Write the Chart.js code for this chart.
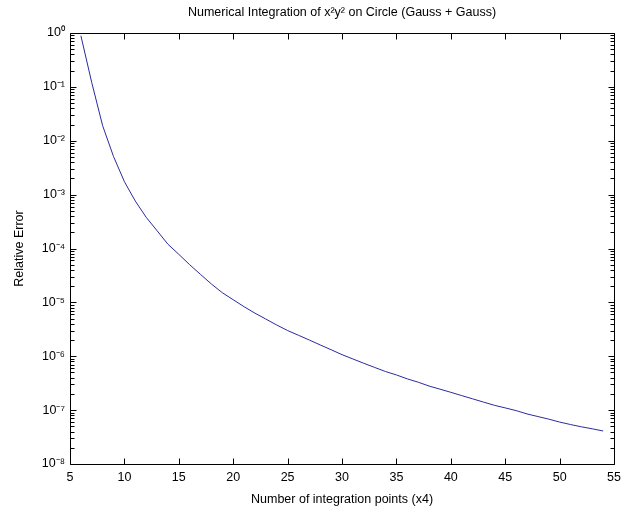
<!DOCTYPE html>
<html>
<head>
<meta charset="utf-8">
<script src="https://cdn.jsdelivr.net/npm/chart.js@4/dist/chart.umd.min.js"></script>
<style>
  html, body { margin: 0; padding: 0; background: #fff; }
  #wrap { width: 627px; height: 512px; }
</style>
</head>
<body>
<div id="wrap"><canvas id="c" width="627" height="512"></canvas></div>
<script>
// ---- data ----
const integrationPoints = [6,7,8,9,10,11,12,13,14,15,16,17,18,19,20,21,22,23,24,25,26,27,28,29,30,31,32,33,34,35,36,37,38,39,40,41,42,43,44,45,46,47,48,49,50,51,52,53,54];
const relativeError = [0.89,0.12,0.019,5.1e-3,1.74e-3,7.6e-4,3.8e-4,2.14e-4,1.2e-4,7.8e-5,5.0e-5,3.3e-5,2.19e-5,1.51e-5,1.12e-5,8.3e-6,6.3e-6,4.9e-6,3.8e-6,3.0e-6,2.45e-6,2.0e-6,1.62e-6,1.32e-6,1.07e-6,8.9e-7,7.4e-7,6.2e-7,5.2e-7,4.5e-7,3.8e-7,3.3e-7,2.8e-7,2.45e-7,2.14e-7,1.86e-7,1.62e-7,1.41e-7,1.23e-7,1.1e-7,9.8e-8,8.5e-8,7.6e-8,6.8e-8,6.0e-8,5.4e-8,4.9e-8,4.5e-8,4.1e-8];
const xTickValues = [5,10,15,20,25,30,35,40,45,50,55];
const yTickExponents = [-8,-7,-6,-5,-4,-3,-2,-1,0];
const titleText = 'Numerical Integration of x\u00B2y\u00B2 on Circle (Gauss + Gauss)';
const xLabelText = 'Number of integration points (x4)';
const yLabelText = 'Relative Error';

const SUP = {'-':'\u207B','0':'\u2070','1':'\u00B9','2':'\u00B2','3':'\u00B3','4':'\u2074','5':'\u2075','6':'\u2076','7':'\u2077','8':'\u2078','9':'\u2079'};
const sup = s => String(s).split('').map(ch => SUP[ch] || ch).join('');

const FONT = "'Liberation Sans', Arial, sans-serif";
const FS = 12.5;

const boxTicks = {
  id: 'boxTicks',
  afterDatasetsDraw(chart) {
    const {ctx, chartArea: a, scales: {x, y}} = chart;
    ctx.save();
    ctx.strokeStyle = '#000';
    ctx.lineWidth = 1;
    const L = Math.round(a.left) + 0.5, R = Math.round(a.right) + 0.5;
    const T = Math.round(a.top) + 0.5, B = Math.round(a.bottom) + 0.5;
    ctx.beginPath();
    ctx.rect(L, T, R - L, B - T);
    xTickValues.forEach(v => {
      const px = Math.round(x.getPixelForValue(v)) + 0.5;
      ctx.moveTo(px, B); ctx.lineTo(px, B - 6);
      ctx.moveTo(px, T); ctx.lineTo(px, T + 6);
    });
    yTickExponents.forEach(e => {
      const py = Math.round(y.getPixelForValue(Math.pow(10, e))) + 0.5;
      ctx.moveTo(L, py); ctx.lineTo(L + 6, py);
      ctx.moveTo(R, py); ctx.lineTo(R - 6, py);
      if (e < 0) {
        for (let m = 2; m <= 9; m++) {
          const pm = Math.round(y.getPixelForValue(m * Math.pow(10, e))) + 0.5;
          ctx.moveTo(L, pm); ctx.lineTo(L + 4, pm);
          ctx.moveTo(R, pm); ctx.lineTo(R - 4, pm);
        }
      }
    });
    ctx.stroke();
    ctx.restore();
  }
};

new Chart(document.getElementById('c'), {
  type: 'line',
  data: {
    datasets: [{
      data: integrationPoints.map((n, i) => ({x: n, y: relativeError[i]})),
      borderColor: '#2a2aa0',
      borderWidth: 1,
      pointRadius: 0,
      tension: 0,
      fill: false
    }]
  },
  options: {
    responsive: false,
    animation: false,
    devicePixelRatio: 1,
    layout: { padding: { left: 10, right: 6, top: 0, bottom: 0 } },
    plugins: {
      legend: { display: false },
      tooltip: { enabled: false },
      title: {
        display: true,
        text: titleText,
        fullSize: false,
        color: '#000',
        font: { family: FONT, size: FS, weight: 'normal' },
        padding: { top: 5, bottom: 13 }
      }
    },
    scales: {
      x: {
        type: 'linear',
        min: 5, max: 55,
        afterBuildTicks: s => { s.ticks = xTickValues.map(v => ({value: v})); },
        ticks: { color: '#000', font: { family: FONT, size: FS }, padding: 6, maxRotation: 0, autoSkip: false },
        grid: { display: false, drawTicks: false },
        border: { display: false },
        title: { display: true, text: xLabelText, color: '#000', font: { family: FONT, size: FS }, padding: { top: 0, bottom: 5 } },
        afterFit: s => { s.height = 48; }
      },
      y: {
        type: 'logarithmic',
        min: 1e-8, max: 1,
        afterBuildTicks: s => { s.ticks = yTickExponents.map(e => ({value: Math.pow(10, e)})); },
        ticks: {
          color: '#000', font: { family: FONT, size: FS }, padding: 5, autoSkip: false,
          callback: v => '10' + sup(Math.round(Math.log10(v)))
        },
        grid: { display: false, drawTicks: false },
        border: { display: false },
        title: { display: true, text: yLabelText, color: '#000', font: { family: FONT, size: FS }, padding: { top: 2, bottom: 0 } },
        afterFit: s => { s.width = 60; }
      }
    }
  },
  plugins: [boxTicks]
});
</script>
</body>
</html>
